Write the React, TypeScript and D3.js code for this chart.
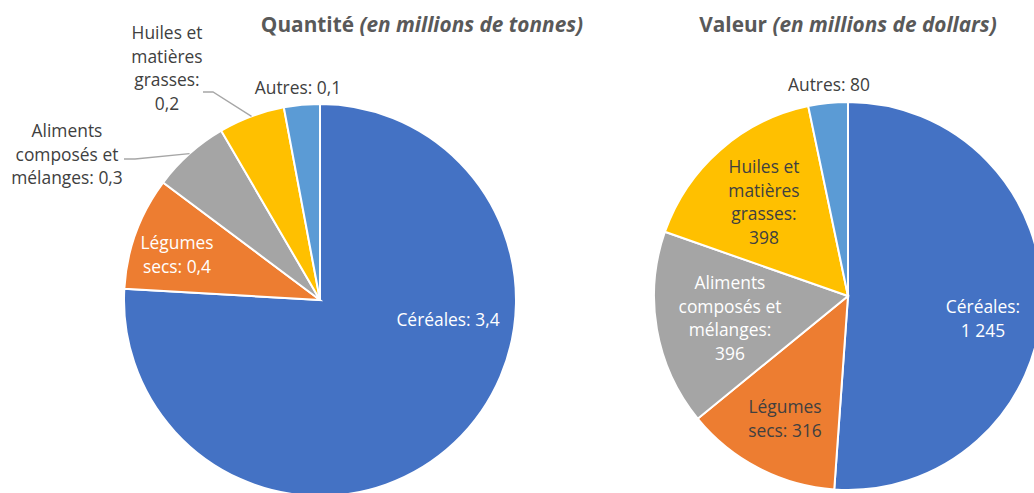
import React from "react";
import * as d3 from "d3";

const categories = ["Céréales", "Légumes secs", "Aliments composés et mélanges", "Huiles et matières grasses", "Autres"];
// Quantité (millions de tonnes) – slice sizes
const quantityValues = [3.34, 0.41, 0.28, 0.24, 0.13];
const quantityLabels = ["3,4", "0,4", "0,3", "0,2", "0,1"];
// Valeur (millions de dollars)
const valueValues = [1245, 316, 396, 398, 80];
const valueLabels = ["1 245", "316", "396", "398", "80"];

const colors = ["#4472C4", "#ED7D31", "#A5A5A5", "#FFC000", "#5B9BD5"];

const FONT = "'Open Sans', 'Noto Sans', sans-serif";

type LabelLayout = { lines: string[]; x: number; y: number; fill: string; leader?: number[][] };

const leftLayout: LabelLayout[] = [
  { lines: ["Céréales: {v}"], x: 448, y: 326, fill: "#ffffff" },
  { lines: ["Légumes", "secs: {v}"], x: 177, y: 249, fill: "#ffffff" },
  { lines: ["Aliments", "composés et", "mélanges: {v}"], x: 67, y: 137, fill: "#404040", leader: [[124, 159], [135, 159]] },
  { lines: ["Huiles et", "matières", "grasses:", "{v}"], x: 167, y: 39, fill: "#404040", leader: [[203, 92], [213, 92]] },
  { lines: ["Autres: {v}"], x: 298, y: 94, fill: "#404040" },
];

const rightLayout: LabelLayout[] = [
  { lines: ["Céréales:", "{v}"], x: 983, y: 313, fill: "#ffffff" },
  { lines: ["Légumes", "secs: {v}"], x: 785, y: 413, fill: "#404040" },
  { lines: ["Aliments", "composés et", "mélanges:", "{v}"], x: 730, y: 289, fill: "#ffffff" },
  { lines: ["Huiles et", "matières", "grasses:", "{v}"], x: 764, y: 173, fill: "#404040" },
  { lines: ["Autres: {v}"], x: 829, y: 91, fill: "#404040" },
];

function Pie({ cx, cy, r, values, labels, layout }: { cx: number; cy: number; r: number; values: number[]; labels: string[]; layout: LabelLayout[] }) {
  const pie = d3.pie<number>().sort(null).value((d) => d)(values);
  const arc = d3.arc<d3.PieArcDatum<number>>().innerRadius(0).outerRadius(r);
  const lh = 23.7;
  return (
    <g>
      <g transform={`translate(${cx},${cy})`}>
        {pie.map((p, i) => (
          <path key={i} d={arc(p) || ""} fill={colors[i]} stroke="#ffffff" strokeWidth={2} strokeLinejoin="miter" />
        ))}
      </g>
      {layout.map((l, i) => {
        const mid = (pie[i].startAngle + pie[i].endAngle) / 2;
        const ex = cx + r * Math.sin(mid);
        const ey = cy - r * Math.cos(mid);
        return (
          <g key={i}>
            {l.leader && (
              <polyline
                points={[...l.leader, [ex, ey]].map((p) => p.join(",")).join(" ")}
                fill="none"
                stroke="#A6A6A6"
                strokeWidth={1.3}
              />
            )}
            <text x={l.x} textAnchor="middle" fill={l.fill} fontFamily={FONT} fontSize={17.4}>
              {l.lines.map((s, j) => (
                <tspan key={j} x={l.x} y={l.y + j * lh}>
                  {s.replace("{v}", labels[i])}
                </tspan>
              ))}
            </text>
          </g>
        );
      })}
    </g>
  );
}

export default function App() {
  return (
    <svg width={1034} height={493} style={{ position: "absolute", left: 0, top: 0, background: "#ffffff" }}>
      <rect width={1034} height={493} fill="#ffffff" />
      <text x={422} y={32} textAnchor="middle" fontFamily={FONT} fontSize={20.8} fontWeight="bold" fill="#595959">
        Quantité <tspan fontStyle="italic">(en millions de tonnes)</tspan>
      </text>
      <text x={848} y={32} textAnchor="middle" fontFamily={FONT} fontSize={20.8} fontWeight="bold" fill="#595959">
        Valeur <tspan fontStyle="italic">(en millions de dollars)</tspan>
      </text>
      <Pie cx={320} cy={300} r={196} values={quantityValues} labels={quantityLabels} layout={leftLayout} />
      <Pie cx={848} cy={296} r={194} values={valueValues} labels={valueLabels} layout={rightLayout} />
    </svg>
  );
}
